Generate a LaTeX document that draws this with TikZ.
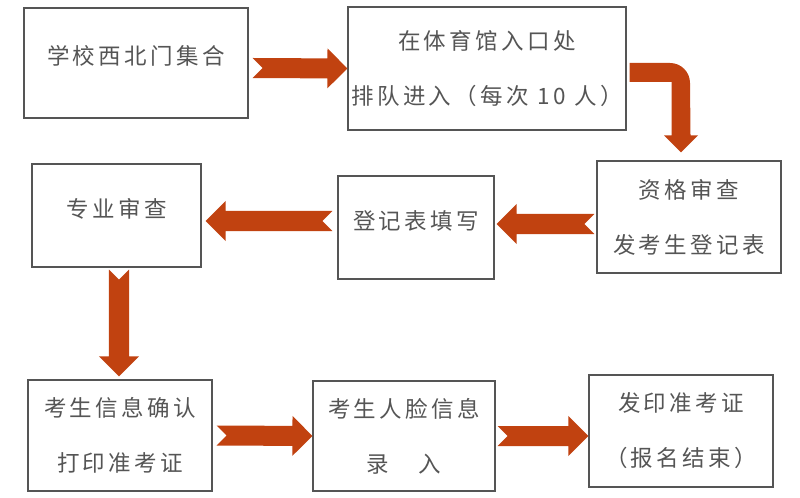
\documentclass[tikz,border=0pt]{standalone}
\usepackage{fontspec}
\newfontfamily\cjk[LetterSpace=15]{Noto Sans CJK SC}
\definecolor{flowred}{RGB}{193,66,16}
\definecolor{flowgray}{RGB}{85,85,85}
\usetikzlibrary{calc}

% single line text sits a bit above the middle
\newcommand{\lift}[1]{\raisebox{5pt}[\height][\depth]{#1}}
% block arrow with notched tail, from #1 to #2
\newcommand{\blockarrow}[2]{%
  \coordinate (ba-h) at ($(#2)!0.5cm!(#1)$);
  \fill[arrowfill] ($(#1)!0.25cm!90:(#2)$) -- ($(ba-h)!0.25cm!90:(#2)$)
    -- ($(ba-h)!0.5cm!90:(#2)$) -- (#2) -- ($(ba-h)!0.5cm!-90:(#2)$)
    -- ($(ba-h)!0.25cm!-90:(#2)$) -- ($(#1)!0.25cm!-90:(#2)$)
    -- ($(#1)!0.25cm!(#2)$) -- cycle;}

\begin{document}
\begin{tikzpicture}[x=0.025cm, y=-0.025cm,
  box/.style={draw=flowgray, line width=0.8pt, align=center, text=flowgray,
    inner sep=0pt, font=\cjk\fontsize{16pt}{39pt}\selectfont},
  arrowfill/.style={fill=flowred}]
\path[use as bounding box, fill=white] (0,0) rectangle (800,498);

% --- Row 1 ---
\node[box, minimum width=5.6cm, minimum height=2.75cm] (b1) at (136,63)
  {\lift{学校西北门集合}};
\node[box, minimum width=6.95cm, minimum height=3.075cm] (b2) at (487,68.5)
  {在体育馆入口处\\排队进入（每次 10 人）};

% --- Row 2 ---
\node[box, minimum width=4.6cm, minimum height=2.8cm] (b3) at (689,217)
  {资格审查\\发考生登记表};
\node[box, minimum width=3.9cm, minimum height=2.575cm] (b4) at (416,227.5)
  {\lift{登记表填写}};
\node[box, minimum width=4.225cm, minimum height=2.575cm] (b5) at (116.5,215.5)
  {\lift{专业审查}};

% --- Row 3 ---
\node[box, minimum width=4.6cm, minimum height=2.775cm] (b6) at (120,435.5)
  {考生信息确认\\打印准考证};
\node[box, minimum width=4.55cm, minimum height=2.75cm] (b7) at (404,436)
  {考生人脸信息\\录　入};
\node[box, minimum width=4.6cm, minimum height=2.8cm] (b8) at (681,431)
  {发印准考证\\（报名结束）};

% Arrows
\coordinate (a1s) at ($(b1.east)+(4,5)$);
\blockarrow{a1s}{b2.west}

% bent arrow down to b3
\coordinate (c2s) at ($(b2.east)+(3,4)$);
\coordinate (c2t) at ($(b3.north)+(-8,-8)$);
\fill[arrowfill] ($(c2s)+(0,-9.5)$) -- ($(c2t |- c2s)+(-11,-9.5)$)
  arc[start angle=-90, end angle=0, radius=20]
  -- ($(c2t)+(9.5,-17)$) -- ($(c2t)+(17,-17)$) -- (c2t)
  -- ($(c2t)+(-17,-17)$) -- ($(c2t)+(-9.5,-17)$)
  -- ($(c2t |- c2s)+(-9.5,9.5)$) -- ($(c2s)+(0,9.5)$) -- cycle;

\coordinate (a2s) at ($(b3.west)+(-2,7)$);
\coordinate (a2e) at ($(b4.east)+(2,-3.5)$);
\blockarrow{a2s}{a2e}

\coordinate (a3s) at ($(b4.west)+(-5,-6.5)$);
\coordinate (a3e) at ($(b5.east)+(4,5.5)$);
\blockarrow{a3s}{a3e}

\coordinate (a4s) at ($(b5.south)+(2.5,2)$);
\coordinate (a4e) at ($(b6.north)+(-1,-3)$);
\blockarrow{a4s}{a4e}

\coordinate (a5s) at ($(b6.east)+(4,0)$);
\blockarrow{a5s}{b7.west}

\coordinate (a6s) at ($(b7.east)+(2,0)$);
\coordinate (a6e) at ($(b8.west)+(0,5)$);
\blockarrow{a6s}{a6e}

\end{tikzpicture}
\end{document}
